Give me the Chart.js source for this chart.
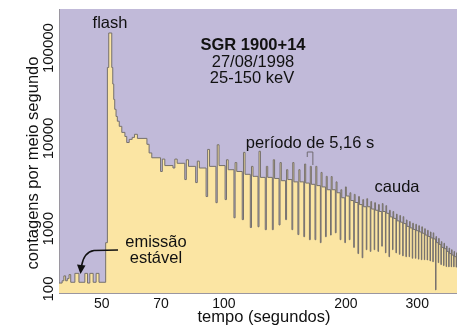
<!DOCTYPE html>
<html>
<head>
<meta charset="utf-8">
<script src="https://cdn.jsdelivr.net/npm/chart.js@4"></script>
<style>
  html, body { margin: 0; padding: 0; background: #fff; }
  #wrap { width: 457px; height: 326px; }
</style>
</head>
<body>
<div id="wrap"><canvas id="grafico"></canvas></div>
<script>
// SGR 1900+14, 27/08/1998 - contagens por meio segundo

// emissão estável antes do flash
const preTempo = [39.2, 39.9, 40.3, 40.7, 41.1, 41.5, 41.9, 42.9, 43.9, 45.4, 46.1, 46.7, 47.6, 48.4, 49.2];
const preContagens = [250, 265, 300, 265, 280, 310, 255, 320, 255, 320, 250, 320, 255, 320, 255];

// flash e começo do decaimento
const flashTempo = [51.1, 51.6, 52.0, 52.9, 53.2, 53.5, 53.8, 54.2, 54.6, 55.2, 56.0, 57.0, 57.6, 58.4, 59.4];
const flashContagens = [700, 61000, 147000, 61000, 40000, 27000, 21000, 17500, 15500, 13600, 11650, 10500, 9000, 9750, 10260];

// cauda pulsada (período de 5,16 s): início de cada pulso, pico, patamar e vale
const pulsoTempo = [60.2, 65.4, 70.5, 75.7, 80.8, 86.0, 91.2, 96.3, 101.5, 106.6,
  111.8, 117.0, 122.1, 127.3, 132.4, 137.6, 142.8, 147.9, 153.1, 158.2,
  163.4, 168.6, 173.7, 178.9, 184.0, 189.2, 194.4, 199.5, 204.7, 209.8,
  215.0, 220.2, 225.3, 230.5, 235.6, 240.8, 246.0, 251.1, 256.3, 261.4,
  266.6, 271.8, 276.9, 282.1, 287.2, 292.4, 297.6, 302.7, 307.9, 313.0,
  318.2, 323.4, 328.5, 333.7, 338.8, 344.0, 349.2, 354.3, 359.5, 364.6,
  369.8, 375.0];
const pulsoPico = [11100, 6900, 5900, 5900, 5800, 5600, 7550, 8500, 5800, 5400,
  7000, 4900, 7200, 4900, 5800, 5400, 4500, 5400, 4500, 5200,
  4900, 4900, 4200, 3800, 3780, 3300, 2700, 2900, 2500, 2400,
  2270, 2100, 2150, 2000, 1940, 1850, 1900, 1800, 1600, 1550,
  1450, 1400, 1360, 1250, 1200, 1150, 1120, 1080, 1050, 1000,
  960, 920, 900, 820, 780, 720, 690, 640, 610, 585,
  560, 540];
const pulsoPatamar = [10000, 6100, 5000, 5300, 4900, 4700, 4900, 5000, 4500, 4300,
  4000, 3800, 3700, 3700, 3600, 3400, 3500, 3300, 3300, 3200,
  3100, 3000, 2900, 2700, 2700, 2500, 2200, 2300, 2050, 1950,
  1850, 1750, 1750, 1650, 1600, 1550, 1550, 1480, 1350, 1300,
  1220, 1180, 1140, 1060, 1020, 980, 950, 920, 890, 850,
  820, 790, 770, 700, 670, 620, 600, 560, 530, 510,
  490, 470];
const pulsoVale = [8600, 4300, 4700, 3500, 3240, 2270, 1940, 2100, 1320, 1260,
  1030, 1050, 975, 975, 1100, 1260, 975, 860, 815, 755,
  755, 700, 815, 850, 900, 755, 700, 755, 620, 530,
  476, 585, 560, 585, 560, 640, 540, 489, 585, 540,
  520, 500, 489, 489, 470, 470, 460, 453, 453, 450,
  440, 430, 210, 420, 400, 390, 380, 378, 378, 378,
  375, 375];

const xTicks = [50, 70, 100, 200, 300];
const yTicks = [194, 1000, 10000, 100000];
const yTickLabels = ['100', '1000', '10000', '100000'];

const fonte = '"Liberation Sans", Arial, sans-serif';

const pontos = [];
preTempo.forEach((t, i) => pontos.push({ x: t, y: preContagens[i] }));
flashTempo.forEach((t, i) => pontos.push({ x: t, y: flashContagens[i] }));
pulsoTempo.forEach((t, i) => {
  pontos.push({ x: t, y: pulsoPico[i] });
  pontos.push({ x: t + 1.0, y: pulsoPatamar[i] });
  pontos.push({ x: t + 4.4, y: pulsoVale[i] });
});

const textos = {
  id: 'textos',
  beforeDraw(chart) {
    const { ctx, chartArea: a } = chart;
    ctx.save();
    ctx.fillStyle = '#c1bad9';
    ctx.fillRect(a.left, a.top, a.right - a.left, a.bottom - a.top);
    ctx.restore();
  },
  afterDraw(chart) {
    const { ctx } = chart;
    const xs = chart.scales.x;
    const ys = chart.scales.y;
    ctx.save();
    ctx.fillStyle = '#111';

    // rótulos do eixo y (girados)
    ctx.font = '15px ' + fonte;
    ctx.textAlign = 'center';
    ctx.textBaseline = 'alphabetic';
    yTicks.forEach((v, i) => {
      let py = ys.getPixelForValue(v);
      if (i === 0) py -= 4;
      ctx.save();
      ctx.translate(52.5, py);
      ctx.rotate(-Math.PI / 2);
      ctx.fillText(yTickLabels[i], 0, 0);
      ctx.restore();
    });

    // títulos dos eixos
    ctx.font = '16.5px ' + fonte;
    ctx.save();
    ctx.translate(37.5, 163);
    ctx.rotate(-Math.PI / 2);
    ctx.fillText('contagens por meio segundo', 0, 0);
    ctx.restore();
    ctx.fillText('tempo (segundos)', 264, 322);

    // anotações
    ctx.fillText('flash', 110, 28);
    ctx.fillText('período de 5,16 s', 310, 148);
    ctx.fillText('cauda', 397, 191.5);
    ctx.fillText('emissão', 156, 246.5);
    ctx.fillText('estável', 156, 263);
    ctx.fillText('27/08/1998', 253, 66.5);
    ctx.fillText('25-150 keV', 252, 83);
    ctx.font = 'bold 16.5px ' + fonte;
    ctx.fillText('SGR 1900+14', 253, 50);

    // colchete indicando um período
    const b0 = xs.getPixelForValue(160.6);
    const b1 = xs.getPixelForValue(165.8);
    ctx.strokeStyle = '#6f6a70';
    ctx.lineWidth = 1;
    ctx.beginPath();
    ctx.moveTo(b0, 157);
    ctx.lineTo(b0, 152);
    ctx.lineTo(b1, 152);
    ctx.lineTo(b1, 165);
    ctx.stroke();

    // seta da emissão estável
    ctx.strokeStyle = '#111';
    ctx.lineWidth = 1.5;
    ctx.beginPath();
    ctx.moveTo(118, 250);
    ctx.lineTo(94, 250.5);
    ctx.quadraticCurveTo(84, 252, 81.5, 266);
    ctx.stroke();
    ctx.beginPath();
    ctx.moveTo(80.5, 274);
    ctx.lineTo(77, 264.5);
    ctx.lineTo(85.5, 265.5);
    ctx.closePath();
    ctx.fill();

    ctx.restore();
  }
};

new Chart(document.getElementById('grafico'), {
  type: 'line',
  data: {
    datasets: [{
      data: pontos,
      stepped: true,
      fill: 'start',
      backgroundColor: '#fbe5a3',
      borderColor: '#75706c',
      borderWidth: 1,
      pointRadius: 0,
      tension: 0
    }]
  },
  options: {
    responsive: true,
    maintainAspectRatio: false,
    animation: false,
    layout: { padding: { top: 9, right: 0, left: 0, bottom: 0 } },
    plugins: {
      legend: { display: false },
      tooltip: { enabled: false }
    },
    scales: {
      x: {
        type: 'logarithmic',
        min: 39.2,
        max: 376,
        afterBuildTicks: s => { s.ticks = xTicks.map(v => ({ value: v })); },
        afterFit: s => { s.height = 33; },
        grid: { display: false, drawTicks: false },
        border: { display: true, color: '#9a96a0' },
        ticks: {
          autoSkip: false,
          maxRotation: 0,
          padding: 3,
          color: '#111',
          font: { family: fonte, size: 14 },
          callback: v => String(v)
        }
      },
      y: {
        type: 'logarithmic',
        min: 194,
        max: 271000,
        afterBuildTicks: s => { s.ticks = yTicks.map(v => ({ value: v })); },
        afterFit: s => { s.width = 59; },
        grid: { display: false, drawTicks: false },
        border: { display: true, color: '#9a96a0' },
        ticks: { display: false }
      }
    }
  },
  plugins: [textos]
});
</script>
</body>
</html>
